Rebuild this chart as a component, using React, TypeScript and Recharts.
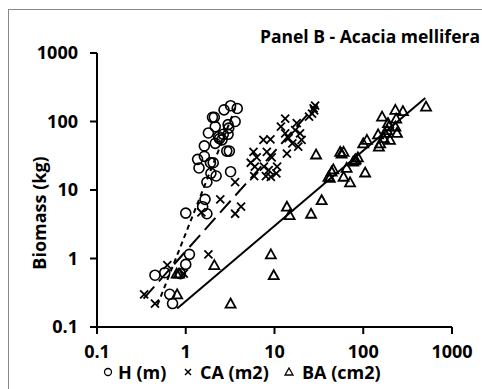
import React from 'react';
import { ScatterChart, Scatter, XAxis, YAxis } from 'recharts';

// values (log-log axes)
const hX = [0.45, 0.58, 0.66, 0.71, 0.87, 1.0, 1.1, 1.0, 1.55, 1.65, 1.73, 1.36, 1.41, 1.62, 1.62, 1.8, 1.9, 2.04, 1.73, 1.92, 2.2, 2.0, 2.1, 2.15, 2.15, 2.35, 2.56, 2.65, 2.9, 3.1, 3.2, 2.7, 3.2, 3.8, 3.6, 3.0, 3.05, 3.0, 2.4];
const hY = [0.57, 0.62, 0.3, 0.22, 0.6, 0.82, 1.15, 4.6, 5.7, 7.3, 4.5, 28, 21, 44, 31, 68, 25, 25, 13, 17.5, 16, 115, 115, 84, 48, 60, 54, 65, 37, 37, 18.5, 148, 170, 155, 100, 90, 80, 65, 56];

const caX = [0.34, 0.45, 0.62, 0.95, 1.8, 1.5, 2.45, 3.6, 3.6, 4.2, 5.8, 5.4, 6.0, 5.9, 7.5, 9.0, 6.3, 8.2, 8.0, 9.1, 8.6, 7.6, 10.7, 10.5, 9.3, 11.8, 13.2, 13.2, 14.4, 13.8, 15.9, 17.1, 17.8, 19.4, 20.2, 18.5, 26.5, 27.6, 28.7, 24.5, 28];
const caY = [0.3, 0.22, 0.8, 0.6, 1.15, 4.7, 7.3, 13, 4.5, 5.7, 36, 25, 22, 16, 54, 55, 30, 36, 16, 15.5, 19.5, 22, 22, 17.5, 30, 84, 110, 67, 57, 34, 48, 75, 95, 67, 54, 43, 130, 155, 170, 118, 145];

const baX = [0.8, 0.79, 0.84, 2.1, 3.2, 9.1, 9.8, 13.8, 14.8, 25.8, 34, 29.4, 40.6, 44, 46, 42, 55, 60, 57, 60, 65, 71, 77, 80, 87, 82, 105, 100, 110, 147, 150, 155, 163, 170, 175, 185, 190, 200, 195, 230, 235, 240, 230, 280, 510];
const baY = [0.3, 0.6, 0.6, 0.8, 0.22, 1.15, 0.57, 5.7, 4.3, 4.5, 7.1, 33, 15.6, 18.6, 20, 15, 36, 36, 34, 15.6, 21, 12.9, 26, 27, 30, 28, 18, 48, 54, 65, 43, 48, 118, 57, 68, 75, 95, 54, 85, 148, 110, 68, 84, 142, 165];

// fitted lines, end points
const hFitX = [0.48, 3.8];
const hFitY = [0.21, 185];
const caFitX = [0.335, 28.8];
const caFitY = [0.26, 170];
const baFitX = [0.8, 500];
const baFitY = [0.186, 220];

const ticks = [0.1, 1, 10, 100, 1000];

const pts = (xs: number[], ys: number[]) => xs.map((x, i) => ({ x, y: ys[i] }));

const FONT = '"Open Sans", Lato, sans-serif';

const Circle = (p: any) => <circle cx={p.cx} cy={p.cy} r={5} fill="none" stroke="#000" strokeWidth={1.6} />;
const Cross = (p: any) => (
  <path d={`M${p.cx - 4},${p.cy - 4}L${p.cx + 4},${p.cy + 4}M${p.cx + 4},${p.cy - 4}L${p.cx - 4},${p.cy + 4}`} stroke="#000" strokeWidth={1.8} fill="none" />
);
const Tri = (p: any) => (
  <path d={`M${p.cx},${p.cy - 5}L${p.cx + 5},${p.cy + 4}L${p.cx - 5},${p.cy + 4}Z`} stroke="#000" strokeWidth={1.8} fill="none" />
);
const NoDot = () => <g />;

const tickStyle = { fill: '#000', fontSize: 18, fontWeight: 700, fontFamily: FONT };
const axisLine = { stroke: '#000', strokeWidth: 2 };

export default function App() {
  return (
    <div style={{ position: 'fixed', left: 0, top: 0, width: 482, height: 389, overflow: 'hidden', background: '#fff' }}>
      <div style={{ position: 'absolute', left: 8, top: 9, width: 500, height: 400, borderLeft: '1px solid #888', borderTop: '1px solid #888' }} />
      <div style={{ position: 'absolute', left: 0, top: 0 }}>
        <ScatterChart width={482} height={389} margin={{ top: 53, right: 30, left: 37, bottom: 37 }}>
          <XAxis
            dataKey="x"
            type="number"
            scale="log"
            domain={[0.1, 1000]}
            ticks={ticks}
            allowDataOverflow
            height={25}
            tickSize={7}
            tickMargin={11}
            tick={tickStyle}
            axisLine={axisLine}
            tickLine={axisLine}
          />
          <YAxis
            dataKey="y"
            type="number"
            scale="log"
            domain={[0.1, 1000]}
            ticks={ticks}
            allowDataOverflow
            width={60}
            tickSize={7}
            tickMargin={12}
            tick={tickStyle}
            axisLine={axisLine}
            tickLine={axisLine}
          />
          <Scatter data={pts(hFitX, hFitY)} fill="none" line={{ stroke: '#000', strokeWidth: 2, strokeDasharray: '5 4' }} shape={NoDot} isAnimationActive={false} />
          <Scatter data={pts(caFitX, caFitY)} fill="none" line={{ stroke: '#000', strokeWidth: 2, strokeDasharray: '16 7' }} shape={NoDot} isAnimationActive={false} />
          <Scatter data={pts(baFitX, baFitY)} fill="none" line={{ stroke: '#000', strokeWidth: 2 }} shape={NoDot} isAnimationActive={false} />
          <Scatter name="H (m)" data={pts(hX, hY)} shape={Circle} isAnimationActive={false} />
          <Scatter name="CA (m2)" data={pts(caX, caY)} shape={Cross} isAnimationActive={false} />
          <Scatter name="BA (cm2)" data={pts(baX, baY)} shape={Tri} isAnimationActive={false} />
        </ScatterChart>
      </div>
      <svg width={482} height={389} style={{ position: 'absolute', left: 0, top: 0, pointerEvents: 'none' }} fontFamily={FONT} fontWeight={700}>
        <text x={480} y={43} textAnchor="end" fontSize={17.5}>Panel B - Acacia mellifera</text>
        <text x={39} y={213} transform="rotate(-90 39 213)" textAnchor="middle" dominantBaseline="central" fontSize={18}>Biomass (kg)</text>
        <circle cx={108} cy={372} r={3.5} fill="none" stroke="#000" strokeWidth={1.3} />
        <text x={118} y={379} fontSize={18}>H (m)</text>
        <path d="M185,369L191,375M191,369L185,375" stroke="#000" strokeWidth={1.5} />
        <text x={200} y={379} fontSize={18}>CA (m2)</text>
        <path d="M289,368L293,375L285,375Z" fill="none" stroke="#000" strokeWidth={1.3} />
        <text x={302} y={379} fontSize={18}>BA (cm2)</text>
      </svg>
    </div>
  );
}
